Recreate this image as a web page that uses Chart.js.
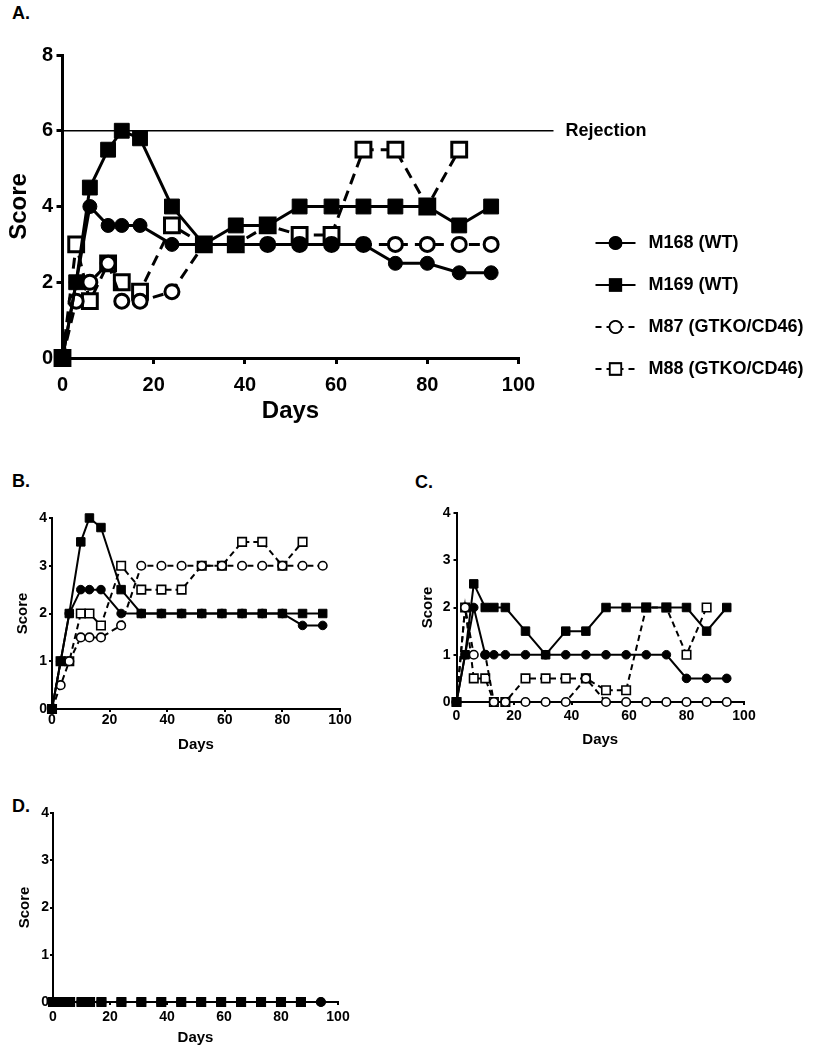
<!DOCTYPE html>
<html><head><meta charset="utf-8">
<script src="https://cdn.jsdelivr.net/npm/chart.js@4.4.0/dist/chart.umd.min.js"></script>
<style>
html,body{margin:0;padding:0;background:#fff;}
body{width:818px;height:1050px;position:relative;overflow:hidden;font-family:"Liberation Sans",Arial,sans-serif;}
canvas{position:absolute;}
.lbl{position:absolute;font-weight:bold;font-size:18px;color:#000;line-height:1.15;}
</style></head><body>
<div class="lbl" style="left:12px;top:3px">A.</div>
<div class="lbl" style="left:12px;top:471px">B.</div>
<div class="lbl" style="left:415px;top:472px">C.</div>
<div class="lbl" style="left:12px;top:796px">D.</div>
<canvas id="cA" width="818" height="440" style="left:0;top:0"></canvas>
<canvas id="cB" width="400" height="290" style="left:0;top:470px"></canvas>
<canvas id="cC" width="418" height="290" style="left:400px;top:470px"></canvas>
<canvas id="cD" width="400" height="260" style="left:0;top:790px"></canvas>
<script>
// ---- data ----
const days = [0,3,6,10,13,17,24,31,38,45,52,59,66,73,80,87,94];
const seriesNames = ['M168 (WT)','M169 (WT)','M87 (GTKO/CD46)','M88 (GTKO/CD46)'];
const rejectionLevel = 6;
const rejectionLabel = 'Rejection';

const aM168 = [0,2,4,3.5,3.5,3.5,3,3,3,3,3,3,3,2.5,2.5,2.25,2.25];
const aM169 = [0,2,4.5,5.5,6,5.8,4,3,3.5,3.5,4,4,4,4,4,3.5,4];
const aM87  = [0,1.5,2,2.5,1.5,1.5,1.75,3,3,3,3,3,3,3,3,3,3];
const aM88  = [0,3,1.5,2.5,2,1.75,3.5,3,3,3.5,3.25,3.25,5.5,5.5,4,5.5];

const bM168 = [0,1,2,2.5,2.5,2.5,2,2,2,2,2,2,2,2,2,1.75,1.75];
const bM169 = [0,1,2,3.5,4,3.8,2.5,2,2,2,2,2,2,2,2,2,2];
const bM87  = [0,0.5,1,1.5,1.5,1.5,1.75,3,3,3,3,3,3,3,3,3,3];
const bM88  = [0,1,1,2,2,1.75,3,2.5,2.5,2.5,3,3,3.5,3.5,3,3.5];

const cM168 = [0,1,2,1,1,1,1,1,1,1,1,1,1,1,0.5,0.5,0.5];
const cM169 = [0,1,2.5,2,2,2,1.5,1,1.5,1.5,2,2,2,2,2,1.5,2];
const cM87  = [0,2,1,1,0,0,0,0,0,0.5,0,0,0,0,0,0,0];
const cM88  = [0,2,0.5,0.5,0,0,0.5,0.5,0.5,0.5,0.25,0.25,2,2,1,2];

const dM168 = [0,0,0,0,0,0,0,0,0,0,0,0,0,0,0,0,0];
const dM169 = [0,0,0,0,0,0,0,0,0,0,0,0,0,0,0,0];
const dM87  = [0,0,0,0,0,0,0,0,0,0,0,0,0,0,0,0,0];
const dM88  = [0,0,0,0,0,0,0,0,0,0,0,0,0,0,0,0];

const xTicks = [0,20,40,60,80,100];

Chart.defaults.font.family = '"Liberation Sans", Arial, sans-serif';
Chart.defaults.color = '#000';

function pts(vals){ return vals.map((v,i)=>({x:days[i], y:v})); }

function styleFor(k, big){
  const solid = k < 2;
  return {
    pointStyle: (k % 2 === 0) ? 'circle' : 'rect',
    pointRadius: (k % 2 === 0) ? (big ? 7 : 4.3) : (big ? (k===3 ? 10.5 : 10.5) : 6),
    pointBackgroundColor: solid ? '#000' : '#fff',
    pointBorderWidth: solid ? 1 : (big ? 3 : 1.6),
    borderDash: solid ? [] : (big ? [11,7] : [6,4]),
    borderWidth: big ? 3 : 2
  };
}

function makeDatasets(vals, big){
  return vals.map((v,k)=>{
    const s = styleFor(k, big);
    return Object.assign({
      label: seriesNames[k], data: pts(v), borderColor:'#000', pointBorderColor:'#000',
      pointHoverRadius: s.pointRadius, clip:false, tension:0, fill:false
    }, s);
  });
}

function scales(o){
  return {
    x:{ type:'linear', min:0, max:100,
      afterBuildTicks(s){ s.ticks = xTicks.map(v=>({value:v})); },
      ticks:{ font:{size:o.tick, weight:'bold'}, color:'#000', padding:o.xpad, maxRotation:0, autoSkip:false },
      grid:{ drawOnChartArea:false, drawTicks:true, tickLength:o.tl, color:'#000', lineWidth:o.bw },
      border:{ display:true, color:'#000', width:o.bw },
      title:{ display:true, text:'Days', font:{size:o.title, weight:'bold'}, color:'#000', padding:{top:0,bottom:0} },
      afterFit(s){ s.height = o.xH; } },
    y:{ type:'linear', min:0, max:o.ymax,
      ticks:{ stepSize:o.ystep, font:{size:o.tick, weight:'bold'}, color:'#000', padding:o.ypad },
      grid:{ drawOnChartArea:false, drawTicks:true, tickLength:o.tl, color:'#000', lineWidth:o.bw },
      border:{ display:true, color:'#000', width:o.bw },
      title:{ display:true, text:'Score', font:{size:o.title, weight:'bold'}, color:'#000', padding:{top:o.ytp,bottom:0} },
      afterFit(s){ s.width = o.yW; } }
  };
}

const rejectionPlugin = {
  id:'rejection',
  beforeDatasetsDraw(chart){
    const {ctx, chartArea, scales} = chart;
    const y = scales.y.getPixelForValue(rejectionLevel);
    ctx.save();
    ctx.strokeStyle = '#000'; ctx.lineWidth = 1.5;
    ctx.beginPath(); ctx.moveTo(chartArea.left, y); ctx.lineTo(chartArea.right + 35, y); ctx.stroke();
    ctx.restore();
  },
  afterDraw(chart){
    const {ctx, chartArea, scales} = chart;
    const y = scales.y.getPixelForValue(rejectionLevel);
    ctx.save();
    ctx.fillStyle = '#000';
    ctx.font = 'bold 18px "Liberation Sans", Arial, sans-serif';
    ctx.textBaseline = 'middle';
    ctx.fillText(rejectionLabel, chartArea.right + 47, y);
    // legend
    const legY = [243, 285, 327, 369];
    chart.data.datasets.forEach((ds, k) => {
      const ly = legY[k];
      const x1 = chartArea.right + 77, x2 = chartArea.right + 117, xm = (x1 + x2) / 2;
      ctx.strokeStyle = '#000'; ctx.lineWidth = 2;
      ctx.setLineDash(k < 2 ? [] : [6,5]);
      ctx.beginPath(); ctx.moveTo(x1, ly); ctx.lineTo(x2, ly); ctx.stroke();
      ctx.setLineDash([]);
      Chart.helpers.drawPoint(ctx, {pointStyle: ds.pointStyle, radius: k % 2 === 0 ? 6 : 8, borderWidth: 1.6}, xm, ly);
      ctx.fillStyle = ds.pointBackgroundColor;
      ctx.beginPath();
      if (ds.pointStyle === 'circle') ctx.arc(xm, ly, 6, 0, Math.PI*2);
      else ctx.rect(xm-5.6, ly-5.6, 11.2, 11.2);
      ctx.fill();
      ctx.lineWidth = 1.6; ctx.strokeStyle = '#000'; ctx.stroke();
      ctx.fillStyle = '#000';
      ctx.font = 'bold 18px "Liberation Sans", Arial, sans-serif';
      ctx.fillText(ds.label, chartArea.right + 130, ly);
    });
    ctx.restore();
  }
};

function build(id, vals, big, o, padding, plugins){
  return new Chart(document.getElementById(id), {
    type:'line',
    data:{ datasets: makeDatasets(vals, big) },
    options:{
      responsive:false, animation:false, devicePixelRatio:1,
      layout:{ padding },
      plugins:{ legend:{display:false}, tooltip:{enabled:false} },
      scales: scales(o)
    },
    plugins: plugins || []
  });
}

build('cA', [aM168,aM169,aM87,aM88], true,
  {tick:20, title:24, tl:6, bw:3, xpad:9, ypad:3.5, ymax:8, ystep:2, xH:68, yW:62.5, ytp:4.6},
  {top:55, left:0, right:299.5, bottom:14}, [rejectionPlugin]);

build('cB', [bM168,bM169,bM87,bM88], false,
  {tick:14, title:15, tl:3, bw:2, xpad:0, ypad:2, ymax:4, ystep:1, xH:45, yW:52, ytp:14.3},
  {top:48, left:0, right:60, bottom:6});

build('cC', [cM168,cM169,cM87,cM88], false,
  {tick:14, title:15, tl:3, bw:2, xpad:3, ypad:3, ymax:4, ystep:1, xH:47, yW:56.5, ytp:18.5},
  {top:43, left:0, right:74, bottom:11});

build('cD', [dM168,dM169,dM87,dM88], false,
  {tick:14, title:15, tl:3, bw:2, xpad:4, ypad:1, ymax:4, ystep:1, xH:45, yW:53, ytp:16},
  {top:23, left:0, right:62, bottom:3});
</script>
</body></html>
